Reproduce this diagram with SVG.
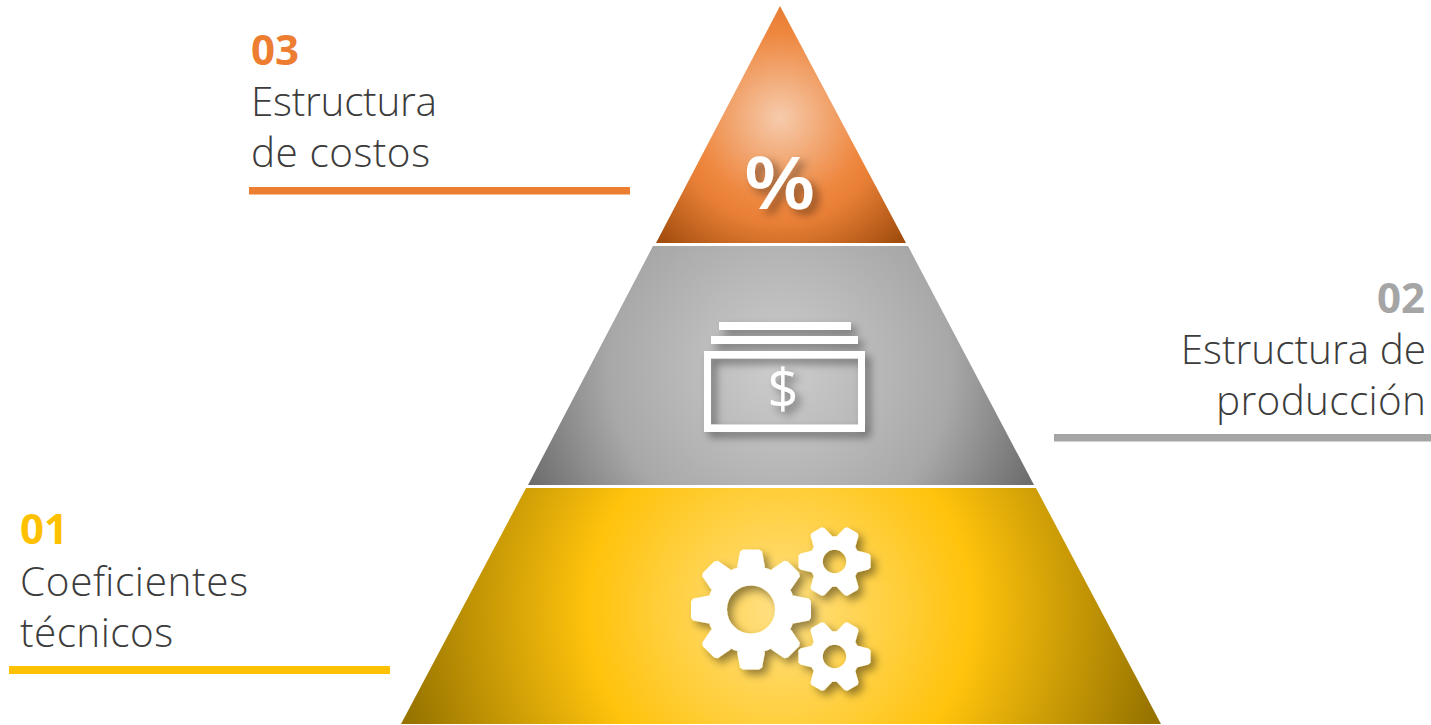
<svg xmlns="http://www.w3.org/2000/svg" xmlns:xlink="http://www.w3.org/1999/xlink" width="1431" height="725" viewBox="0 0 1431 725">
<style>
.num{font-family:"Open Sans","Liberation Sans",sans-serif;font-weight:700;font-size:42px}
.lbl{font-family:"Open Sans","Liberation Sans",sans-serif;font-weight:300;font-size:40.500px;fill:#3c3c3c}
.ico{fill:#fff;filter:url(#sh)}
.end{text-anchor:end}
</style>
<defs>
<filter id="sh" x="-30%" y="-30%" width="170%" height="170%"><feDropShadow dx="5" dy="5" stdDeviation="4" flood-color="#000" flood-opacity="0.42"/></filter>
<radialGradient id="go" gradientUnits="userSpaceOnUse" cx="780" cy="118" r="170"><stop offset="0" stop-color="#F6CBAC"/><stop offset="0.5" stop-color="#EE873F"/><stop offset="0.62" stop-color="#E87F36"/><stop offset="1" stop-color="#A34E0E"/></radialGradient>
<radialGradient id="gg" gradientUnits="userSpaceOnUse" cx="780" cy="368" r="285"><stop offset="0" stop-color="#CDCDCD"/><stop offset="0.6" stop-color="#A8A8A8"/><stop offset="1" stop-color="#666"/></radialGradient>
<radialGradient id="gy" gradientUnits="userSpaceOnUse" cx="780" cy="610" r="385"><stop offset="0" stop-color="#FFE084"/><stop offset="0.5" stop-color="#FFC30C"/><stop offset="1" stop-color="#977400"/></radialGradient>
<polygon id="t8" points="-14,-42 -11,-58 -8,-60 8,-60 11,-58 14,-42"/>
<polygon id="t6" points="-11,-22 -8,-34 -6,-36 6,-36 8,-34 11,-22"/>
<g id="big"><circle r="34" fill="none" stroke="#fff" stroke-width="20"/><use xlink:href="#t8"/><use xlink:href="#t8" transform="rotate(45)"/><use xlink:href="#t8" transform="rotate(90)"/><use xlink:href="#t8" transform="rotate(135)"/><use xlink:href="#t8" transform="rotate(180)"/><use xlink:href="#t8" transform="rotate(225)"/><use xlink:href="#t8" transform="rotate(270)"/><use xlink:href="#t8" transform="rotate(315)"/></g>
<g id="small"><circle r="18.500" fill="none" stroke="#fff" stroke-width="13.500"/><use xlink:href="#t6" transform="rotate(30)"/><use xlink:href="#t6" transform="rotate(90)"/><use xlink:href="#t6" transform="rotate(150)"/><use xlink:href="#t6" transform="rotate(210)"/><use xlink:href="#t6" transform="rotate(270)"/><use xlink:href="#t6" transform="rotate(330)"/></g>
</defs>
<rect width="1431" height="725" fill="#fff"/>
<g id="tier-top"><polygon points="780,6 906,243 656,243" fill="url(#go)"/><text class="ico" transform="translate(779.500 209) scale(1.16 1)" text-anchor="middle" style="font-family:'Open Sans','Liberation Sans',sans-serif;font-weight:600;font-size:72px">%</text></g>
<g id="tier-middle"><polygon points="653,246 908,246 1034,485 528,485" fill="url(#gg)"/>
<g class="ico"><rect x="719" y="322" width="132" height="8"/><rect x="711" y="336" width="147" height="8"/><path fill-rule="evenodd" d="M704 351H865V432H704ZM711 358.500V424.500H858V358.500Z"/><text x="783" y="408" text-anchor="middle" style="font-family:'Open Sans','Liberation Sans',sans-serif;font-weight:400;font-size:54px">$</text></g></g>
<g id="tier-bottom"><polygon points="526,488 1036,488 1161,724 401,724" fill="url(#gy)"/>
<g class="ico"><use xlink:href="#big" x="751" y="609.500"/><use xlink:href="#small" x="834.500" y="561.500"/><use xlink:href="#small" x="834.500" y="656.500"/></g></g>
<g id="label-03"><text class="num" x="251" y="65" fill="#ED7D31">03</text><text class="lbl" x="251" y="116" textLength="186">Estructura</text><text class="lbl" x="251" y="167" textLength="179">de costos</text><rect x="249" y="187" width="381" height="7.500" fill="#ED7D31"/></g>
<g id="label-02"><text class="num end" x="1425" y="313" fill="#A5A5A5">02</text><text class="lbl end" x="1426" y="364">Estructura de</text><text class="lbl end" x="1426" y="415" textLength="210">producción</text><rect x="1054" y="434" width="377" height="7.500" fill="#A5A5A5"/></g>
<g id="label-01"><text class="num" x="20" y="544" fill="#FFC000">01</text><text class="lbl" x="20" y="596" textLength="228">Coeficientes</text><text class="lbl" x="20" y="647" textLength="153">técnicos</text><rect x="9" y="666" width="381" height="8" fill="#FFC000"/></g>
<g id="connectors"/>
</svg>
